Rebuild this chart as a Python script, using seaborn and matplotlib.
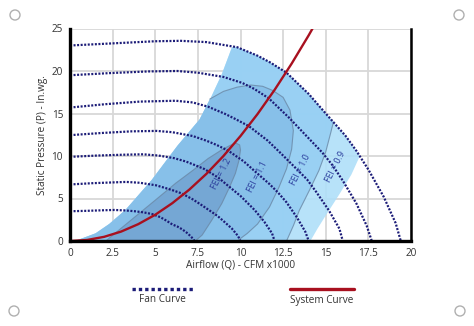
import numpy as np
import pandas as pd
import matplotlib
matplotlib.use("Agg")
import matplotlib.pyplot as plt
import seaborn as sns
from matplotlib.lines import Line2D
from matplotlib.patches import Circle

# ---------------- data ----------------
# Fan curves (airflow in CFM x1000, static pressure in in.wg.)
fan1_q = [0, 2.5, 5, 6.5, 8, 9.8, 11, 11.75, 12.7, 14, 15, 16.15, 16.8, 17.5, 18.4, 19.1, 19.4]
fan1_p = [23.0, 23.25, 23.5, 23.55, 23.4, 22.8, 21.8, 21.0, 19.8, 17.3, 15.0, 12.4, 10.6, 8.4, 5.2, 2.1, 0]
fan2_q = [0, 2.3, 4.6, 6.3, 7.5, 9.0, 10.1, 10.8, 11.65, 12.85, 13.75, 14.8, 15.4, 16.0, 16.8, 17.4, 17.7]
fan2_p = [19.5, 19.75, 19.95, 20.0, 19.8, 19.3, 18.6, 17.9, 16.8, 14.5, 12.6, 10.4, 8.9, 7.1, 4.4, 1.8, 0]
fan3_q = [0, 2.1, 4.1, 6.2, 7.2, 8.1, 9.1, 9.7, 10.5, 11.6, 12.4, 13.3, 13.9, 14.45, 15.2, 15.8, 16.0]
fan3_p = [15.7, 16.1, 16.4, 16.5, 16.3, 15.8, 14.95, 14.35, 13.5, 11.8, 10.25, 8.45, 7.25, 5.75, 3.55, 1.45, 0]
fan4_q = [0, 1.8, 3.6, 5.1, 6.0, 7.2, 8.0, 8.6, 9.3, 10.2, 10.9, 11.7, 12.2, 12.7, 13.3, 13.8, 14.0]
fan4_p = [12.45, 12.7, 12.9, 12.95, 12.8, 12.35, 11.8, 11.3, 10.6, 9.35, 8.1, 6.7, 5.7, 4.55, 2.8, 1.1, 0]
fan5_q = [0, 1.55, 3.1, 4.3, 5.2, 6.1, 6.8, 7.3, 7.9, 8.7, 9.3, 10.0, 10.4, 10.85, 11.4, 11.85, 12.0]
fan5_p = [9.9, 10.05, 10.15, 10.2, 10.05, 9.75, 9.35, 8.95, 8.45, 7.45, 6.45, 5.3, 4.5, 3.6, 2.25, 0.9, 0]
fan6_q = [0, 1.3, 2.6, 3.3, 4.1, 5.05, 5.65, 6.05, 6.55, 7.2, 7.7, 8.25, 8.65, 9.0, 9.5, 9.85, 10.0]
fan6_p = [6.65, 6.8, 6.9, 6.95, 6.85, 6.55, 6.2, 5.95, 5.6, 4.9, 4.25, 3.5, 2.95, 2.35, 1.45, 0.6, 0]
fan7_q = [0, 1.0, 2.0, 2.6, 3.2, 3.8, 4.2, 4.5, 4.85, 5.3, 5.65, 6.0, 6.3, 6.6, 6.9, 7.2, 7.3]
fan7_p = [3.5, 3.55, 3.62, 3.65, 3.6, 3.5, 3.4, 3.3, 3.15, 2.8, 2.4, 1.95, 1.7, 1.35, 0.9, 0.3, 0]

# System curve
sys_q = [0, 1, 2, 3, 4, 5, 6, 7, 8, 9, 10, 11, 12, 13, 14, 14.3]
sys_p = [0, 0.12, 0.49, 1.11, 1.98, 3.09, 4.45, 6.05, 7.9, 10.0, 12.35, 14.94, 17.78, 20.87, 24.2, 25.26]

# FEI region boundaries
left_q = [0.3, 1.5, 2.3, 3.25, 4.8, 6.3, 7.6, 8.2, 8.9, 9.5]
left_p = [0, 0.9, 2.0, 3.65, 7.2, 11.2, 14.3, 16.6, 19.6, 22.8]
outer_q = [17.0, 16.5, 15.8, 15.0, 14.5, 14.1]
outer_p = [10.0, 7.8, 5.5, 3.0, 1.4, 0]
fei10_q = [15.45, 15.3, 15.0, 14.6, 14.05, 13.45, 13.1, 12.7]
fei10_p = [14.0, 12.8, 10.5, 8.3, 6.0, 3.6, 1.8, 0]
fei11_q = [8.2, 9.0, 9.8, 10.6, 11.3, 11.9, 12.5, 12.9, 13.1, 13.0, 12.7, 12.25, 11.7, 11.0, 10.4, 9.8]
fei11_p = [16.7, 17.6, 18.1, 18.35, 18.2, 17.7, 16.9, 15.4, 13.0, 10.8, 8.5, 6.3, 4.0, 2.0, 0.9, 0]
fei12_q = [2.1, 3.0, 3.85, 5.0, 6.2, 7.2, 8.1, 9.0, 9.7, 9.95, 10.0, 9.9, 9.7, 9.35, 8.9, 8.3, 7.75, 7.35]
fei12_p = [0, 1.5, 2.9, 4.8, 6.8, 8.3, 9.7, 10.85, 11.55, 11.3, 10.7, 9.4, 7.95, 6.3, 4.4, 2.4, 0.7, 0]

fei_labels = ["FEI = 1.2", "FEI = 1.1", "FEI = 1.0", "FEI = 0.9"]
fei_label_q = [8.9, 11.0, 13.5, 15.55]
fei_label_p = [7.9, 7.6, 8.35, 8.7]

x_ticks = [0, 2.5, 5, 7.5, 10, 12.5, 15, 17.5, 20]
x_tick_labels = ["0", "2.5", "5", "7.5", "10", "12.5", "15", "17.5", "20"]
y_ticks = [0, 5, 10, 15, 20, 25]
y_tick_labels = ["0", "5", "10", "15", "20", "25"]

# ---------------- style ----------------
sns.set_theme(style="white")
plt.rcParams['font.family'] = ['Open Sans', 'DejaVu Sans']

NAVY = "#1c1c78"
RED = "#a8101f"
TXT = "#333333"

W, H = 474, 326
fig = plt.figure(figsize=(W / 100, H / 100), dpi=100)
fig.patch.set_facecolor("white")
ax = fig.add_axes([70 / W, 1 - 241 / H, 341 / W, 212.5 / H])
ax.set_facecolor("white")

# ---------------- FEI regions ----------------
top_sel = [(q, p) for q, p in zip(fan1_q, fan1_p) if 9.5 < q < 17.0]
top_sel_10 = [(q, p) for q, p in zip(fan1_q, fan1_p) if 9.5 < q < 15.45]

def build(segments):
    qs, ps = [], []
    for sq, sp in segments:
        qs += list(sq)
        ps += list(sp)
    return qs, ps

q09, p09 = build([(left_q, left_p), ([a for a, b in top_sel], [b for a, b in top_sel]), (outer_q, outer_p)])
q10, p10 = build([(left_q, left_p), ([a for a, b in top_sel_10], [b for a, b in top_sel_10]), (fei10_q, fei10_p)])
lq11 = [q for q in left_q if q < 8.2]
lp11 = [p for q, p in zip(left_q, left_p) if q < 8.2]
q11, p11 = build([(lq11, lp11), (fei11_q, fei11_p)])

ax.fill(q09, p09, color="#afdff9", lw=0, zorder=1, alpha=0.9)
ax.fill(q10, p10, color="#96cff3", lw=0, zorder=1.1, alpha=0.9)
ax.fill(q11, p11, color="#86bfe8", lw=0, zorder=1.2, alpha=0.9)
ax.fill(fei12_q, fei12_p, color="#74a5d2", lw=0, zorder=1.3, alpha=0.9)

EDGE = "#6a88a6"
ax.plot(fei10_q, fei10_p, color=EDGE, lw=0.8, alpha=0.8, zorder=1.4)
ax.plot(fei11_q, fei11_p, color=EDGE, lw=0.8, alpha=0.8, zorder=1.4)
ax.plot(fei12_q, fei12_p, color=EDGE, lw=0.8, alpha=0.8, zorder=1.4)

# ---------------- fan curves ----------------
fan_q = [fan1_q, fan2_q, fan3_q, fan4_q, fan5_q, fan6_q, fan7_q]
fan_p = [fan1_p, fan2_p, fan3_p, fan4_p, fan5_p, fan6_p, fan7_p]
fan_df = pd.concat(
    [pd.DataFrame({"Q": q, "P": p, "curve": i}) for i, (q, p) in enumerate(zip(fan_q, fan_p))],
    ignore_index=True,
)
sns.lineplot(data=fan_df, x="Q", y="P", units="curve", estimator=None, sort=False,
             color=NAVY, lw=1.6, linestyle=(0, (0.9, 0.7)), ax=ax, zorder=3, legend=False)

sys_df = pd.DataFrame({"Q": sys_q, "P": sys_p})
sns.lineplot(data=sys_df, x="Q", y="P", estimator=None, sort=False,
             color=RED, lw=1.7, ax=ax, zorder=4, legend=False)

for lab, lq, lp in zip(fei_labels, fei_label_q, fei_label_p):
    ax.text(lq, lp, lab, rotation=63, ha="center", va="center", fontsize=6.3,
            color="#2a3c9c", rotation_mode="anchor", zorder=5)

# ---------------- axes ----------------
ax.set_xlim(0, 20)
ax.set_ylim(0, 25)
ax.set_xticks(x_ticks)
ax.set_xticklabels(x_tick_labels)
ax.set_yticks(y_ticks)
ax.set_yticklabels(y_tick_labels)
ax.grid(True, color="#d8d8d8", lw=1.3, zorder=0.5)
ax.set_axisbelow(True)
ax.tick_params(length=0, labelsize=7.2, colors=TXT, pad=5)
ax.set_xlabel("Airflow (Q) - CFM x1000", fontsize=7.2, color=TXT)
ax.set_ylabel("Static Pressure (P) - In.wg.", fontsize=7.2, color=TXT)
ax.xaxis.set_label_coords(0.5, (241 - 266) / 212.5, transform=ax.transAxes)
ax.yaxis.set_label_coords((43 - 70) / 341, 0.5, transform=ax.transAxes)
ax.xaxis.label.set_va("center")
ax.yaxis.label.set_va("center")
ax.spines["top"].set_visible(False)
for side, lw in (("left", 2.4), ("bottom", 2.4), ("right", 1.8)):
    ax.spines[side].set_color("black")
    ax.spines[side].set_linewidth(lw)
    ax.spines[side].set_zorder(6)

# ---------------- legend (below plot) ----------------
fy = 1 - 289 / H
fig.add_artist(Line2D([132 / W, 195 / W], [fy, fy], transform=fig.transFigure,
                      color=NAVY, lw=2.4, linestyle=(0, (1, 0.9))))
fig.add_artist(Line2D([290 / W, 354 / W], [fy, fy], transform=fig.transFigure,
                      color=RED, lw=2.4))
fig.text(162 / W, 1 - 300 / H, "Fan Curve", ha="center", va="center", fontsize=7.2,
         color=TXT)
fig.text(322 / W, 1 - 300 / H, "System Curve", ha="center", va="center", fontsize=7.2,
         color=TXT)

# decorative corner rings
for cx, cy in ((15, 15), (459, 15), (14, 311), (460, 311)):
    fig.add_artist(Circle((cx / 100, (H - cy) / 100), 0.05, transform=fig.dpi_scale_trans,
                          facecolor="white", edgecolor="#b0b0b0", lw=1.0))

fig.savefig("out.png", dpi=100)
